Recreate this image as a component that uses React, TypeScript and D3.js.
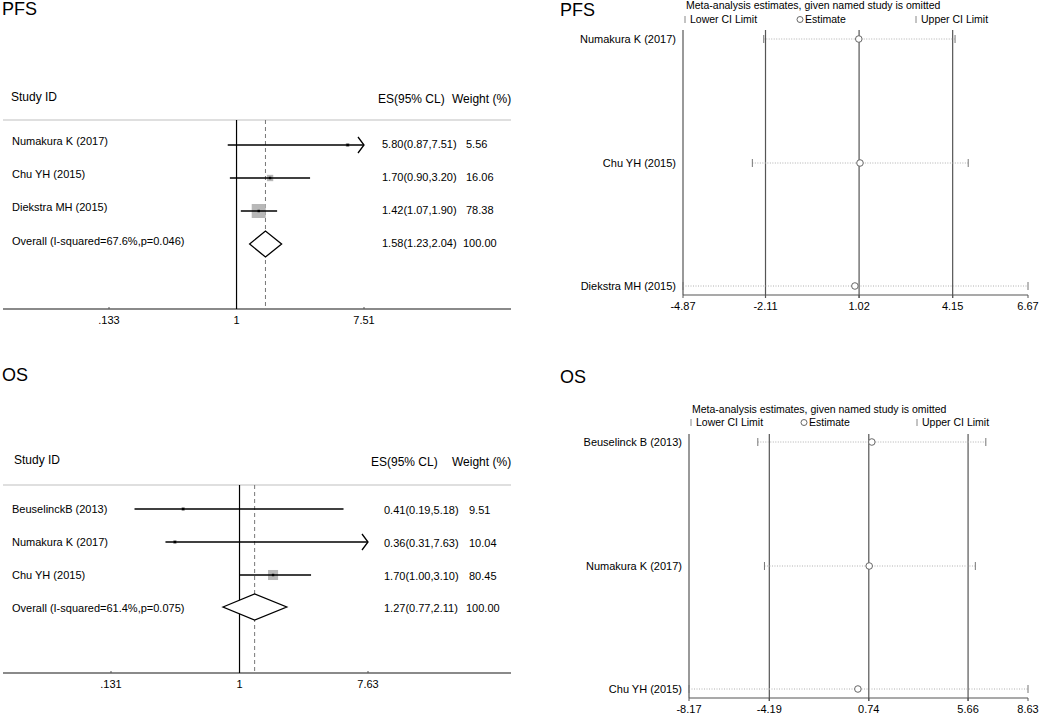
import React from "react";
import * as d3 from "d3";

// ---------- Data ----------
const pfsStudies = ["Numakura K (2017)", "Chu YH (2015)", "Diekstra MH (2015)"];
const pfsES = [5.8, 1.7, 1.42];
const pfsLo = [0.87, 0.9, 1.07];
const pfsHi = [7.51, 3.2, 1.9];
const pfsWeight = ["5.56", "16.06", "78.38"];
const pfsOverall = { label: "Overall (I-squared=67.6%,p=0.046)", es: 1.58, lo: 1.23, hi: 2.04, weight: "100.00" };
const pfsTicks = [0.133, 0.9999, 7.51];
const pfsTickLabels = [".133", "1", "7.51"];

const osStudies = ["BeuselinckB (2013)", "Numakura K (2017)", "Chu YH (2015)"];
const osES = [0.41, 0.36, 1.7];
const osLo = [0.19, 0.31, 1.0];
const osHi = [5.18, 7.63, 3.1];
const osWeight = ["9.51", "10.04", "80.45"];
const osOverall = { label: "Overall (I-squared=61.4%,p=0.075)", es: 1.27, lo: 0.77, hi: 2.11, weight: "100.00" };
const osTicks = [0.131, 0.9999, 7.63];
const osTickLabels = [".131", "1", "7.63"];

// sensitivity (leave-one-out)
const pfsSensStudies = ["Numakura K (2017)", "Chu YH (2015)", "Diekstra MH (2015)"];
const pfsSensLo = [-2.17, -2.55, -4.87];
const pfsSensEst = [1.01, 1.05, 0.88];
const pfsSensHi = [4.23, 4.67, 6.67];
const pfsSensTicks = [-4.87, -2.11, 1.02, 4.15, 6.67];
const pfsSensRef = [-2.11, 1.02, 4.15];

const osSensStudies = ["Beuselinck B (2013)", "Numakura K (2017)", "Chu YH (2015)"];
const osSensLo = [-4.76, -4.43, -8.17];
const osSensEst = [0.89, 0.76, 0.2];
const osSensHi = [6.54, 6.02, 8.63];
const osSensTicks = [-8.17, -4.19, 0.74, 5.66, 8.63];
const osSensRef = [-4.19, 0.74, 5.66];

const FONT = "'Liberation Sans', Arial, Helvetica, sans-serif";

const fmt = (v: number) => v.toFixed(2);

type ForestProps = {
  title: string;
  titleY: number;
  headerY: number;
  headerX: [number, number, number];
  sepY: number;
  axisY: number;
  rowYs: number[];
  overallY: number;
  range: [number, number];
  studies: string[];
  es: number[];
  lo: number[];
  hi: number[];
  weight: string[];
  overall: { label: string; es: number; lo: number; hi: number; weight: string };
  ticks: number[];
  tickLabels: string[];
  sqK: number;
  labelDy: number;
  valueDy: number;
  esX: number;
  wX: number;
};

function Forest(p: ForestProps) {
  const x = d3.scaleLog().domain([p.ticks[0], p.ticks[2]]).range(p.range);
  const xmin = p.ticks[0];
  const xmax = p.ticks[2];
  const x1 = x(1);
  const xo = x(p.overall.es);
  const diamond = d3.line()([
    [x(p.overall.lo), p.overallY],
    [xo, p.overallY - 13],
    [x(p.overall.hi), p.overallY],
    [xo, p.overallY + 13],
  ]) + "Z";
  return (
    <g fontFamily={FONT}>
      <text x={2} y={p.titleY} fontSize={18} fill="#000">{p.title}</text>
      <text x={p.headerX[0]} y={p.headerY} fontSize={12}>Study ID</text>
      <text x={p.headerX[1]} y={p.headerY + 2} fontSize={12}>ES(95% CL)</text>
      <text x={p.headerX[2]} y={p.headerY + 2} fontSize={12}>Weight (%)</text>
      <line x1={3} x2={511} y1={p.sepY} y2={p.sepY} stroke="#d4d4d4" strokeWidth={1.5} />
      <line x1={3} x2={511} y1={p.axisY} y2={p.axisY} stroke="#8a8a8a" strokeWidth={2} />
      {p.ticks.map((t, i) => (
        <g key={i}>
          <line x1={x(t)} x2={x(t)} y1={p.axisY - 2} y2={p.axisY} stroke="#555" strokeWidth={1} />
          <text x={x(t)} y={p.axisY + 15} fontSize={11} textAnchor="middle">{p.tickLabels[i]}</text>
        </g>
      ))}
      <line x1={x1} x2={x1} y1={p.sepY} y2={p.axisY} stroke="#000" strokeWidth={1.2} />
      <line x1={xo} x2={xo} y1={p.sepY} y2={p.axisY} stroke="#777" strokeWidth={1} strokeDasharray="4,3" />
      {p.studies.map((s, i) => {
        const y = p.rowYs[i];
        const side = p.sqK * Math.sqrt(parseFloat(p.weight[i]));
        const clipHi = p.hi[i] >= xmax;
        const clipLo = p.lo[i] <= xmin;
        const xl = x(Math.max(p.lo[i], xmin));
        const xh = x(Math.min(p.hi[i], xmax));
        const xe = x(p.es[i]);
        return (
          <g key={s}>
            <text x={12} y={y + p.labelDy} fontSize={11}>{s}</text>
            <rect x={xe - side / 2} y={y - side / 2} width={side} height={side} fill="#b8b8b8" />
            <line x1={xl} x2={xh} y1={y} y2={y} stroke="#000" strokeWidth={1.3} />
            {clipHi && (
              <path d={`M${xh - 6},${y - 8}L${xh},${y}L${xh - 6},${y + 8}`} fill="none" stroke="#000" strokeWidth={1.3} />
            )}
            {clipLo && (
              <path d={`M${xl + 6},${y - 8}L${xl},${y}L${xl + 6},${y + 8}`} fill="none" stroke="#000" strokeWidth={1.3} />
            )}
            <rect x={xe - 1.2} y={y - 1.2} width={2.4} height={2.4} fill="#000" />
            <text x={p.esX} y={y + p.valueDy} fontSize={11}>{`${fmt(p.es[i])}(${fmt(p.lo[i])},${fmt(p.hi[i])})`}</text>
            <text x={p.wX} y={y + p.valueDy} fontSize={11}>{p.weight[i]}</text>
          </g>
        );
      })}
      <text x={12} y={p.overallY + p.labelDy + 1} fontSize={11}>{p.overall.label}</text>
      <path d={diamond} fill="#fff" stroke="#000" strokeWidth={1.3} />
      <text x={p.esX} y={p.overallY + p.valueDy} fontSize={11}>{`${fmt(p.overall.es)}(${fmt(p.overall.lo)},${fmt(p.overall.hi)})`}</text>
      <text x={p.wX - 3} y={p.overallY + p.valueDy} fontSize={11}>{p.overall.weight}</text>
    </g>
  );
}

type SensProps = {
  title: string;
  titleY: number;
  noteY: number;
  legendY: number;
  legendX: [number, number, number];
  top: number;
  axisY: number;
  range: [number, number];
  rowYs: number[];
  studies: string[];
  lo: number[];
  est: number[];
  hi: number[];
  ticks: number[];
  refs: number[];
};

function Sens(p: SensProps) {
  const x = d3.scaleLinear().domain([p.ticks[0], p.ticks[p.ticks.length - 1]]).range(p.range);
  const [x0, x1] = p.range;
  return (
    <g fontFamily={FONT}>
      <text x={560} y={p.titleY} fontSize={18}>{p.title}</text>
      <text x={p.legendX[0] + 1} y={p.noteY} fontSize={10.5}>Meta-analysis estimates, given named study is omitted</text>
      <line x1={p.legendX[0]} x2={p.legendX[0]} y1={p.legendY - 7} y2={p.legendY} stroke="#888" strokeWidth={1} />
      <text x={p.legendX[0] + 5} y={p.legendY} fontSize={10.5}>Lower CI Limit</text>
      <circle cx={p.legendX[1]} cy={p.legendY - 3.5} r={3} fill="#fff" stroke="#666" strokeWidth={1} />
      <text x={p.legendX[1] + 5} y={p.legendY} fontSize={10.5}>Estimate</text>
      <line x1={p.legendX[2]} x2={p.legendX[2]} y1={p.legendY - 7} y2={p.legendY} stroke="#888" strokeWidth={1} />
      <text x={p.legendX[2] + 5} y={p.legendY} fontSize={10.5}>Upper CI Limit</text>

      {p.refs.map((r) => (
        <line key={r} x1={x(r)} x2={x(r)} y1={p.top} y2={p.axisY + 3} stroke="#555" strokeWidth={1.2} />
      ))}
      <line x1={x0} x2={x0} y1={p.top} y2={p.axisY} stroke="#555" strokeWidth={1.2} />
      <line x1={x0} x2={x1} y1={p.axisY} y2={p.axisY} stroke="#555" strokeWidth={1.2} />
      {p.ticks.map((t) => (
        <g key={t}>
          <line x1={x(t)} x2={x(t)} y1={p.axisY} y2={p.axisY + 3} stroke="#555" strokeWidth={1} />
          <text x={x(t)} y={p.axisY + 15} fontSize={11} textAnchor="middle">{t.toFixed(2)}</text>
        </g>
      ))}
      {p.studies.map((s, i) => {
        const y = p.rowYs[i];
        return (
          <g key={s}>
            <text x={p.range[0] - 7} y={y + 4} fontSize={11} textAnchor="end">{s}</text>
            <line x1={x(p.lo[i])} x2={x(p.hi[i])} y1={y} y2={y} stroke="#b0b0b0" strokeWidth={1} strokeDasharray="1,1.5" />
            <line x1={x(p.lo[i])} x2={x(p.lo[i])} y1={y - 4} y2={y + 4} stroke="#777" strokeWidth={1} />
            <line x1={x(p.hi[i])} x2={x(p.hi[i])} y1={y - 4} y2={y + 4} stroke="#777" strokeWidth={1} />
            <circle cx={x(p.est[i])} cy={y} r={3.3} fill="#fff" stroke="#666" strokeWidth={1} />
          </g>
        );
      })}
    </g>
  );
}

export default function App() {
  return (
    <svg width={1045} height={715} style={{ position: "absolute", left: 0, top: 0, background: "#fff" }}>
      <rect width={1045} height={715} fill="#fff" />
      <Forest
        title="PFS"
        titleY={15}
        headerY={101}
        headerX={[11, 378, 452]}
        sepY={120}
        axisY={309}
        rowYs={[145, 178, 211]}
        overallY={244}
        range={[109, 364]}
        studies={pfsStudies}
        es={pfsES}
        lo={pfsLo}
        hi={pfsHi}
        weight={pfsWeight}
        overall={pfsOverall}
        ticks={pfsTicks}
        tickLabels={pfsTickLabels}
        sqK={1.58}
        labelDy={0}
        valueDy={3}
        esX={382}
        wX={466}
      />
      <Forest
        title="OS"
        titleY={381}
        headerY={464}
        headerX={[14, 371, 452]}
        sepY={485}
        axisY={673}
        rowYs={[509, 542, 575]}
        overallY={607}
        range={[111, 368]}
        studies={osStudies}
        es={osES}
        lo={osLo}
        hi={osHi}
        weight={osWeight}
        overall={osOverall}
        ticks={osTicks}
        tickLabels={osTickLabels}
        sqK={1.12}
        labelDy={4}
        valueDy={5}
        esX={384}
        wX={469}
      />
      <Sens
        title="PFS"
        titleY={16}
        noteY={9}
        legendY={23}
        legendX={[685, 800, 916]}
        top={30}
        axisY={295}
        range={[683, 1028]}
        rowYs={[39, 163, 286]}
        studies={pfsSensStudies}
        lo={pfsSensLo}
        est={pfsSensEst}
        hi={pfsSensHi}
        ticks={pfsSensTicks}
        refs={pfsSensRef}
      />
      <Sens
        title="OS"
        titleY={383}
        noteY={413}
        legendY={426}
        legendX={[691, 804, 917]}
        top={434}
        axisY={698}
        range={[689, 1028]}
        rowYs={[442, 566, 689]}
        studies={osSensStudies}
        lo={osSensLo}
        est={osSensEst}
        hi={osSensHi}
        ticks={osSensTicks}
        refs={osSensRef}
      />
    </svg>
  );
}
